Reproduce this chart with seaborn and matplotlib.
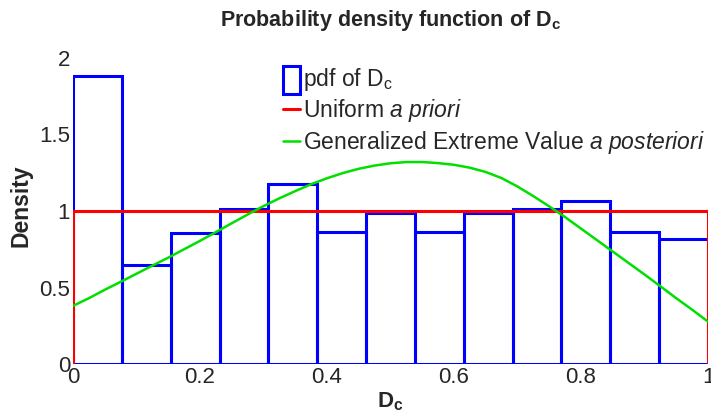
import numpy as np
import pandas as pd
import matplotlib
matplotlib.use("Agg")
import matplotlib.pyplot as plt
import seaborn as sns
from matplotlib.patches import Rectangle
from matplotlib.lines import Line2D
from matplotlib.legend_handler import HandlerPatch

# ---- data ----
bin_edges = [0, 1/13, 2/13, 3/13, 4/13, 5/13, 6/13, 7/13, 8/13, 9/13, 10/13, 11/13, 12/13, 1]
bin_heights = [1.88, 0.65, 0.855, 1.015, 1.175, 0.862, 0.99, 0.862, 0.988, 1.012, 1.067, 0.862, 0.815]

uniform_x = [0, 0, 1, 1]
uniform_y = [0, 1, 1, 0]

gev_x = [0, .025, .05, .075, .1, .125, .15, .175, .2, .225, .25, .275, .3, .325, .35, .375,
         .4, .425, .45, .475, .5, .525, .55, .575, .6, .625, .65, .675, .7, .725, .75, .775,
         .8, .825, .85, .875, .9, .925, .95, .975, 1]
gev_y = [0.38, 0.43, 0.485, 0.537, 0.59, 0.643, 0.695, 0.75, 0.805, 0.862, 0.92, 0.977,
         1.032, 1.083, 1.13, 1.175, 1.214, 1.248, 1.276, 1.297, 1.312, 1.32, 1.32, 1.313,
         1.302, 1.283, 1.255, 1.215, 1.16, 1.097, 1.03, 0.96, 0.885, 0.81, 0.735, 0.66,
         0.585, 0.508, 0.43, 0.355, 0.277]

xticks = [0, 0.2, 0.4, 0.6, 0.8, 1]
xticklabels = ["0", "0.2", "0.4", "0.6", "0.8", "1"]
yticks = [0, 0.5, 1, 1.5, 2]
yticklabels = ["0", "0.5", "1", "1.5", "2"]

sns.set_theme(style="white")
plt.rcParams["font.family"] = ["Liberation Sans", "DejaVu Sans"]
plt.rcParams["mathtext.fontset"] = "custom"
plt.rcParams["mathtext.rm"] = "Liberation Sans"
plt.rcParams["mathtext.it"] = "Liberation Sans:italic"
plt.rcParams["mathtext.bf"] = "Liberation Sans:bold"

fig = plt.figure(figsize=(7.11, 4.18), dpi=100)
ax = fig.add_axes([73/711, 54/418, 635/711, 306/418])

centers = [(bin_edges[i] + bin_edges[i + 1]) / 2 for i in range(len(bin_heights))]
hist_df = pd.DataFrame({"x": centers, "w": bin_heights})
sns.histplot(data=hist_df, x="x", weights="w", bins=bin_edges, stat="count",
             fill=False, element="bars", color="#0000ff", linewidth=2.2, ax=ax)

sns.lineplot(x=uniform_x, y=uniform_y, sort=False, color="#ff0000", linewidth=2.2,
             estimator=None, ax=ax)
sns.lineplot(x=gev_x, y=gev_y, sort=False, color="#00e000", linewidth=1.8,
             estimator=None, ax=ax)

ax.set_xlim(0, 1)
ax.set_ylim(0, 2)
ax.set_xticks(xticks)
ax.set_xticklabels(xticklabels, fontsize=16)
ax.set_yticks(yticks)
ax.set_yticklabels(yticklabels, fontsize=16)
ax.tick_params(length=0, pad=2)
for s in ax.spines.values():
    s.set_visible(False)

ax.set_xlabel(r"$\mathbf{D_c}$", fontsize=16, labelpad=2)
ax.set_ylabel("Density", fontsize=16.5, fontweight="bold")
ax.yaxis.set_label_coords(-0.063, 0.516)
ax.set_title(r"Probability density function of $\mathbf{D_c}$", fontsize=15.5,
             fontweight="bold", pad=23)


def tall_rect(legend, orig_handle, xdescent, ydescent, width, height, fontsize):
    return Rectangle((-xdescent, -ydescent - height * 0.55), width, height * 1.75)


handles = [Rectangle((0, 0), 1, 1, fill=False, edgecolor="#0000ff", linewidth=2.2),
           Line2D([], [], color="#ff0000", linewidth=2.2),
           Line2D([], [], color="#00e000", linewidth=1.8)]
labels = [r"pdf of $\mathregular{D_c}$", r"Uniform $\mathit{a\ priori}$",
          r"Generalized Extreme Value $\mathit{a\ posteriori}$"]
ax.legend(handles, labels, loc="upper left", bbox_to_anchor=(0.33, 0.975), frameon=False,
          fontsize=16.5, handlelength=0.75, handletextpad=0.15, borderaxespad=0, borderpad=0,
          labelspacing=0.2,
          handler_map={Rectangle: HandlerPatch(patch_func=tall_rect)})

fig.savefig("out.png", dpi=100)
